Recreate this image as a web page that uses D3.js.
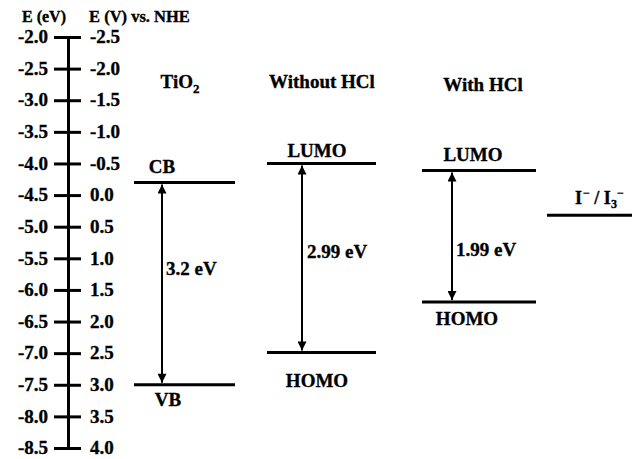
<!DOCTYPE html>
<html>
<head>
<meta charset="utf-8">
<script src="https://cdn.jsdelivr.net/npm/d3@7"></script>
<style>
  html, body { margin: 0; padding: 0; background: #fff; }
  svg { display: block; font-family: "Liberation Serif", "Times New Roman", serif; font-weight: bold; }
  svg text { stroke: #000; stroke-width: 0.35px; fill: #000; }
</style>
</head>
<body>
<svg id="chart" width="633" height="459"></svg>
<script>
// ---- data ----
const eTicks = [-2.0, -2.5, -3.0, -3.5, -4.0, -4.5, -5.0, -5.5, -6.0, -6.5, -7.0, -7.5, -8.0, -8.5];
const vTicks = [-2.5, -2.0, -1.5, -1.0, -0.5, 0.0, 0.5, 1.0, 1.5, 2.0, 2.5, 3.0, 3.5, 4.0];
const groups = ["TiO2", "Without HCl", "With HCl"];
const upperLevels = [-4.30, -4.00, -4.11];   // CB / LUMO (eV)
const lowerLevels = [-7.50, -6.99, -6.19];   // VB / HOMO (eV)
const upperNames = ["CB", "LUMO", "LUMO"];
const lowerNames = ["VB", "HOMO", "HOMO"];
const gapLabels = ["3.2 eV", "2.99 eV", "1.99 eV"];
const redoxLevel = -4.82;                    // I-/I3- (eV)

// ---- layout ----
const svg = d3.select("#chart");
const axisX = 68;
const yE = d3.scaleLinear().domain([-2.0, -8.5]).range([37, 448]);
const yV = d3.scaleLinear().domain([-2.5, 4.0]).range([37, 448]);
const fmt = d => d3.format(".1f")(Math.abs(d) < 1e-9 ? 0 : d).replace("\u2212", "-");

const layout = {
  "TiO2":        { x0: 134, x1: 235, arrowX: 162, titleX: 180, titleY: 88,
                   upX: 162, upDy: -9, loX: 168, loDy: 21, gapX: 166, gapY: 275 },
  "Without HCl": { x0: 267, x1: 376, arrowX: 302, titleX: 322, titleY: 88,
                   upX: 317, upDy: -6, loX: 317, loDy: 34, gapX: 307, gapY: 258 },
  "With HCl":    { x0: 422, x1: 536, arrowX: 452, titleX: 483, titleY: 91,
                   upX: 473, upDy: -9, loX: 467, loDy: 23, gapX: 456, gapY: 256 }
};

// headers
svg.append("text").attr("x", 44).attr("y", 22).attr("text-anchor", "middle")
  .attr("font-size", 16).text("E (eV)");
svg.append("text").attr("x", 89).attr("y", 22).attr("text-anchor", "start")
  .attr("font-size", 16.5).text("E (V) vs. NHE");

// axes
const leftAxis = d3.axisLeft(yE).tickValues(eTicks).tickSizeInner(14).tickSizeOuter(0)
  .tickPadding(6).tickFormat(fmt);
const rightAxis = d3.axisRight(yV).tickValues(vTicks).tickSizeInner(13).tickSizeOuter(0)
  .tickPadding(9).tickFormat(fmt);

const gl = svg.append("g").attr("transform", `translate(${axisX},0)`).call(leftAxis);
const gr = svg.append("g").attr("transform", `translate(${axisX},0)`).call(rightAxis);
[gl, gr].forEach(g => {
  g.attr("font-family", null).attr("font-size", null);
  g.selectAll(".domain").attr("stroke", "#000").attr("stroke-width", 3);
  g.selectAll(".tick line").attr("stroke", "#000").attr("stroke-width", 3);
  g.selectAll(".tick text").attr("font-size", 19).attr("fill", "#000").attr("dy", "0.3em");
});

// arrow markers
const defs = svg.append("defs");
defs.append("marker").attr("id", "ah").attr("viewBox", "0 0 10 10")
  .attr("refX", 10).attr("refY", 5).attr("markerWidth", 10).attr("markerHeight", 9)
  .attr("markerUnits", "userSpaceOnUse").attr("orient", "auto-start-reverse")
  .append("path").attr("d", "M0,0 L10,5 L0,10 Z").attr("fill", "#000");

groups.forEach((g, i) => {
  const L = layout[g];
  const yu = yE(upperLevels[i]);
  const yl = yE(lowerLevels[i]);
  svg.append("line").attr("x1", L.x0).attr("x2", L.x1).attr("y1", yu).attr("y2", yu)
    .attr("stroke", "#000").attr("stroke-width", 3);
  svg.append("line").attr("x1", L.x0).attr("x2", L.x1).attr("y1", yl).attr("y2", yl)
    .attr("stroke", "#000").attr("stroke-width", 3);
  svg.append("line").attr("x1", L.arrowX).attr("x2", L.arrowX)
    .attr("y1", yu + 2).attr("y2", yl - 2)
    .attr("stroke", "#000").attr("stroke-width", 2)
    .attr("marker-start", "url(#ah)").attr("marker-end", "url(#ah)");
  svg.append("text").attr("x", L.upX).attr("y", yu + L.upDy).attr("text-anchor", "middle")
    .attr("font-size", 19).text(upperNames[i]);
  svg.append("text").attr("x", L.loX).attr("y", yl + L.loDy).attr("text-anchor", "middle")
    .attr("font-size", 19).text(lowerNames[i]);
  svg.append("text").attr("x", L.gapX).attr("y", L.gapY).attr("text-anchor", "start")
    .attr("font-size", 19).text(gapLabels[i]);
  const t = svg.append("text").attr("x", L.titleX).attr("y", L.titleY)
    .attr("text-anchor", "middle").attr("font-size", 19);
  if (g === "TiO2") {
    t.append("tspan").text("TiO");
    t.append("tspan").attr("font-size", 13).attr("dy", 5).text("2");
  } else {
    t.text(g);
  }
});

// redox couple
const yr = yE(redoxLevel);
svg.append("line").attr("x1", 547).attr("x2", 632).attr("y1", yr).attr("y2", yr)
  .attr("stroke", "#000").attr("stroke-width", 3);
const rt = svg.append("text").attr("x", 575).attr("y", yr - 11).attr("font-size", 18);
rt.append("tspan").text("I");
rt.append("tspan").attr("font-size", 12).attr("dx", 1).attr("dy", -7).text("\u2212");
rt.append("tspan").attr("dy", 7).text(" / I");
rt.append("tspan").attr("font-size", 12).attr("dy", 4).text("3");
rt.append("tspan").attr("font-size", 12).attr("dx", 0).attr("dy", -11).text("\u2212");
</script>
</body>
</html>
